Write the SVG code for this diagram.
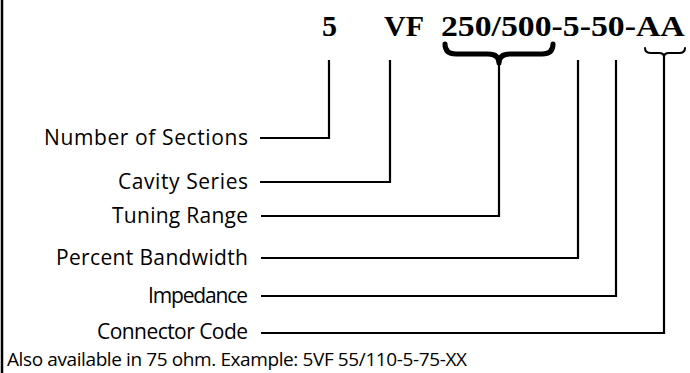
<svg xmlns="http://www.w3.org/2000/svg" width="690" height="373" viewBox="0 0 690 373">
<style>
.code{font-family:"Liberation Serif","Times New Roman",serif;font-weight:bold;font-size:30px;fill:#000}
.lbl{font-family:"Open Sans","Lato",sans-serif;font-size:21px;fill:#000;text-anchor:end}
.note{font-family:"Open Sans","Lato",sans-serif;font-size:19px;fill:#000}
.ln{fill:none;stroke:#000;stroke-width:2.2}
.br{fill:none;stroke:#000;stroke-linecap:round;stroke-linejoin:round}
</style>
<rect width="690" height="373" fill="#fff"/>
<line x1="2" y1="0" x2="2" y2="373" stroke="#000" stroke-width="2.5"/>
<g id="code">
<text class="code" x="322" y="36">5</text>
<text class="code" x="384" y="36">VF</text>
<text class="code" transform="translate(441,36) scale(1.125,1)" x="0" y="0">250/500-5-50-AA</text>
</g>
<g id="braces">
<path class="br" stroke-width="5" d="M445,44 Q445,54 456,54 L488,54 Q499,54 499,63 Q499,54 510,54 L542,54 Q553,54 553,44"/>
<path class="br" stroke-width="2" d="M645,48 Q645,53 651,53 L659,53 Q664,53 664,57 Q664,53 669,53 L679,53 Q685,53 685,48"/>
</g>
<g id="n1"><text class="lbl" x="248" y="145" textLength="204">Number of Sections</text></g>
<g id="n2"><text class="lbl" x="248" y="189" textLength="130">Cavity Series</text></g>
<g id="n3"><text class="lbl" x="248" y="223" textLength="136">Tuning Range</text></g>
<g id="n4"><text class="lbl" x="248" y="265" textLength="192">Percent Bandwidth</text></g>
<g id="n5"><text class="lbl" x="248" y="303" textLength="100">Impedance</text></g>
<g id="n6"><text class="lbl" x="248" y="339" textLength="151">Connector Code</text></g>
<g id="note"><text class="note" x="7" y="366" textLength="460">Also available in 75 ohm. Example: 5VF 55/110-5-75-XX</text></g>
<g id="connectors">
<polyline class="ln" points="260,138 329,138 329,60"/>
<polyline class="ln" points="260,182 390,182 390,60"/>
<polyline class="ln" points="261,216 499,216 499,63"/>
<polyline class="ln" points="261,258 578,258 578,60"/>
<polyline class="ln" points="261,296 616,296 616,60"/>
<polyline class="ln" points="261,333 664,333 664,57"/>
</g>
</svg>
